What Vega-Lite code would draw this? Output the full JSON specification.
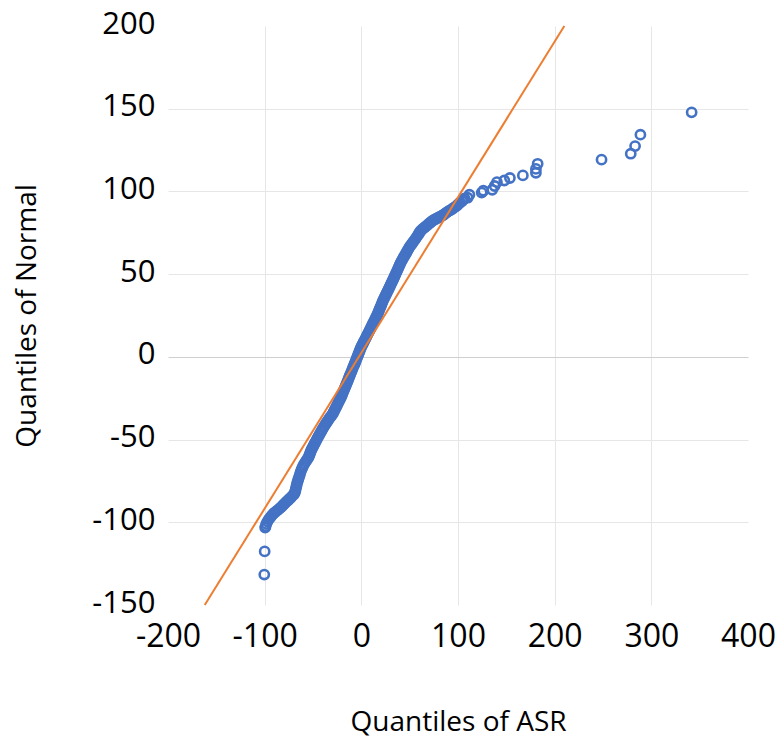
{
  "$schema": "https://vega.github.io/schema/vega-lite/v6.json",
  "width": 580,
  "height": 579,
  "autosize": {"type": "none"},
  "padding": {"left": 168, "top": 26, "right": 28, "bottom": 133},
  "background": "white",
  "config": {
    "view": {"stroke": null},
    "font": "Open Sans"
  },
  "datasets": {
    "pts": [
      {"a": -100.4, "n": -131.6}, {"a": -100, "n": -117.6}, {"a": -99.5, "n": -103.2}, {"a": -99, "n": -102.4},
      {"a": -98.3, "n": -101}, {"a": -97.2, "n": -99.6}, {"a": -95.8, "n": -98.2}, {"a": -94.2, "n": -97},
      {"a": -92.6, "n": -95.8}, {"a": -90.8, "n": -94.7}, {"a": -88.8, "n": -93.7}, {"a": -86.9, "n": -92.8},
      {"a": -85, "n": -91.9}, {"a": -83.2, "n": -91}, {"a": -81.7, "n": -90.1}, {"a": -80.2, "n": -89.2},
      {"a": -78.7, "n": -88.3}, {"a": -77.1, "n": -87.4}, {"a": -75.5, "n": -86.5}, {"a": -73.9, "n": -85.6},
      {"a": -72.2, "n": -84.6}, {"a": -70.6, "n": -83.6}, {"a": -69.2, "n": -82.6}, {"a": -68.4, "n": -81.4},
      {"a": -67.9, "n": -80}, {"a": -67.3, "n": -78.5}, {"a": -66.7, "n": -77}, {"a": -66, "n": -75.5},
      {"a": -65.2, "n": -74}, {"a": -64.3, "n": -72.5}, {"a": -63.5, "n": -71}, {"a": -62.8, "n": -69.5},
      {"a": -61.8, "n": -68}, {"a": -60.9, "n": -66.8}, {"a": -60, "n": -65.6}, {"a": -58.8, "n": -64.4},
      {"a": -57.4, "n": -63.2}, {"a": -56.1, "n": -62}, {"a": -54.7, "n": -60.8}, {"a": -53.9, "n": -59.6},
      {"a": -53.1, "n": -58.4}, {"a": -52.4, "n": -57.2}, {"a": -51.5, "n": -56}, {"a": -50.4, "n": -54.8},
      {"a": -49.4, "n": -53.6}, {"a": -48.3, "n": -52.4}, {"a": -47.2, "n": -51.2}, {"a": -46.2, "n": -50},
      {"a": -45.1, "n": -48.8}, {"a": -43.9, "n": -47.6}, {"a": -42.8, "n": -46.4}, {"a": -41.6, "n": -45.2},
      {"a": -40.5, "n": -44}, {"a": -39.3, "n": -42.8}, {"a": -38, "n": -41.6}, {"a": -36.7, "n": -40.4},
      {"a": -35.4, "n": -39.2}, {"a": -34, "n": -38}, {"a": -32.6, "n": -36.8}, {"a": -31, "n": -35.6},
      {"a": -29.5, "n": -34.4}, {"a": -28.5, "n": -33.2}, {"a": -27.5, "n": -32}, {"a": -26.4, "n": -30.8},
      {"a": -25.4, "n": -29.6}, {"a": -24.4, "n": -28.4}, {"a": -23.4, "n": -27.2}, {"a": -22.3, "n": -26},
      {"a": -21.3, "n": -24.8}, {"a": -20.4, "n": -23.6}, {"a": -19.6, "n": -22.4}, {"a": -18.8, "n": -21.2},
      {"a": -17.9, "n": -20}, {"a": -17.1, "n": -18.8}, {"a": -16.2, "n": -17.6}, {"a": -15.4, "n": -16.4},
      {"a": -14.5, "n": -15.2}, {"a": -13.7, "n": -14}, {"a": -12.9, "n": -12.8}, {"a": -12.1, "n": -11.6},
      {"a": -11.3, "n": -10.4}, {"a": -10.4, "n": -9.2}, {"a": -9.6, "n": -8}, {"a": -8.8, "n": -6.8},
      {"a": -8, "n": -5.6}, {"a": -7.1, "n": -4.4}, {"a": -6.3, "n": -3.2}, {"a": -5.5, "n": -2},
      {"a": -4.7, "n": -0.8}, {"a": -3.9, "n": 0.4}, {"a": -3.1, "n": 1.6}, {"a": -2.3, "n": 2.8},
      {"a": -1.5, "n": 4}, {"a": -0.7, "n": 5.2}, {"a": 0.2, "n": 6.4}, {"a": 1.3, "n": 7.6},
      {"a": 2.3, "n": 8.8}, {"a": 3.3, "n": 10}, {"a": 4.4, "n": 11.2}, {"a": 5.4, "n": 12.4},
      {"a": 6.4, "n": 13.6}, {"a": 7.5, "n": 14.8}, {"a": 8.5, "n": 16}, {"a": 9.5, "n": 17.2},
      {"a": 10.5, "n": 18.4}, {"a": 11.5, "n": 19.6}, {"a": 12.5, "n": 20.8}, {"a": 13.6, "n": 22},
      {"a": 14.6, "n": 23.2}, {"a": 15.6, "n": 24.4}, {"a": 16.6, "n": 25.6}, {"a": 17.5, "n": 26.8},
      {"a": 18.3, "n": 28}, {"a": 19.1, "n": 29.2}, {"a": 20, "n": 30.4}, {"a": 20.8, "n": 31.6},
      {"a": 21.6, "n": 32.8}, {"a": 22.4, "n": 34}, {"a": 23.4, "n": 35.2}, {"a": 24.4, "n": 36.4},
      {"a": 25.4, "n": 37.6}, {"a": 26.4, "n": 38.8}, {"a": 27.4, "n": 40}, {"a": 28.4, "n": 41.2},
      {"a": 29.4, "n": 42.4}, {"a": 30.3, "n": 43.6}, {"a": 31.3, "n": 44.8}, {"a": 32.3, "n": 46},
      {"a": 33.3, "n": 47.2}, {"a": 34.2, "n": 48.4}, {"a": 35.1, "n": 49.6}, {"a": 36, "n": 50.8},
      {"a": 37, "n": 52}, {"a": 37.9, "n": 53.2}, {"a": 38.8, "n": 54.4}, {"a": 39.7, "n": 55.6},
      {"a": 40.6, "n": 56.8}, {"a": 41.7, "n": 58}, {"a": 42.9, "n": 59.2}, {"a": 44, "n": 60.4},
      {"a": 45.2, "n": 61.6}, {"a": 46.4, "n": 62.8}, {"a": 47.5, "n": 64}, {"a": 48.7, "n": 65.2},
      {"a": 49.9, "n": 66.4}, {"a": 51.4, "n": 67.6}, {"a": 52.9, "n": 68.8}, {"a": 54.3, "n": 70},
      {"a": 55.8, "n": 71.2}, {"a": 57.2, "n": 72.4}, {"a": 58.6, "n": 73.6}, {"a": 59.6, "n": 74.6},
      {"a": 60.7, "n": 75.6}, {"a": 61.8, "n": 76.5}, {"a": 63.5, "n": 77.4}, {"a": 65.3, "n": 78.2},
      {"a": 67, "n": 79}, {"a": 68.6, "n": 79.8}, {"a": 70.2, "n": 80.6}, {"a": 71.8, "n": 81.4},
      {"a": 73.4, "n": 82.2}, {"a": 75.4, "n": 82.9}, {"a": 77.4, "n": 83.5}, {"a": 79.4, "n": 84.1},
      {"a": 81.4, "n": 84.7}, {"a": 83.4, "n": 85.3}, {"a": 85.2, "n": 85.9}, {"a": 86.6, "n": 86.6},
      {"a": 88, "n": 87.2}, {"a": 89.8, "n": 87.9}, {"a": 91.8, "n": 88.6}, {"a": 94, "n": 89.4},
      {"a": 96, "n": 90.2}, {"a": 97.8, "n": 91}, {"a": 99.5, "n": 91.8}, {"a": 101, "n": 92.6},
      {"a": 102, "n": 93.2}, {"a": 104.3, "n": 94.2}, {"a": 105.8, "n": 95.2}, {"a": 106.8, "n": 95.8},
      {"a": 110, "n": 96.2}, {"a": 111.8, "n": 98}, {"a": 124.5, "n": 99.3}, {"a": 126.2, "n": 100.4},
      {"a": 135.4, "n": 101}, {"a": 137.9, "n": 103.3}, {"a": 140.3, "n": 105.6}, {"a": 147.9, "n": 106.6},
      {"a": 153.7, "n": 108.1}, {"a": 167.1, "n": 109.7}, {"a": 180.6, "n": 111.3}, {"a": 180.6, "n": 113.6},
      {"a": 182.4, "n": 116.7}, {"a": 248.5, "n": 119.2}, {"a": 278.7, "n": 122.8}, {"a": 283.2, "n": 127.4},
      {"a": 288.7, "n": 134.3}, {"a": 341.7, "n": 147.8}
    ],
    "fit": [
      {"a": -162, "n": -150},
      {"a": 210, "n": 200}
    ]
  },
  "layer": [
    {
      "data": {"name": "pts"},
      "mark": {"type": "point", "shape": "circle", "filled": false, "stroke": "#4472C4", "strokeWidth": 2.6, "size": 85, "opacity": 1},
      "encoding": {
        "x": {
          "field": "a", "type": "quantitative",
          "scale": {"domain": [-200, 400], "nice": false, "zero": false},
          "axis": {
            "title": "Quantiles of ASR",
            "values": [-200, -100, 0, 100, 200, 300, 400],
            "labelExpr": "datum.value + ''",
            "domain": false, "ticks": false,
            "labelFont": "Open Sans", "labelFontSize": 32, "labelColor": "#000000", "labelPadding": 16,
            "labelFlush": false, "labelOverlap": false,
            "titleFont": "Open Sans", "titleFontSize": 28, "titleFontWeight": "normal", "titleColor": "#000000", "titlePadding": 56,
            "gridColor": "#e6e6e6", "gridWidth": 1,
            "gridOpacity": {"condition": {"test": "datum.value === -200 || datum.value === 400", "value": 0}, "value": 1}
          }
        },
        "y": {
          "field": "n", "type": "quantitative",
          "scale": {"domain": [-150, 200], "nice": false, "zero": false},
          "axis": {
            "title": "Quantiles of Normal",
            "values": [-150, -100, -50, 0, 50, 100, 150, 200],
            "labelExpr": "datum.value + ''",
            "domain": false, "ticks": false,
            "labelFont": "Open Sans", "labelFontSize": 31, "labelColor": "#000000", "labelPadding": 13,
            "labelFlush": false, "labelOverlap": false, "labelOffset": -2,
            "titleFont": "Open Sans", "titleFontSize": 28, "titleFontWeight": "normal", "titleColor": "#000000", "titlePadding": 50,
            "gridColor": {"condition": {"test": "datum.value === 0", "value": "#cfcfcf"}, "value": "#e6e6e6"},
            "gridWidth": 1,
            "gridOpacity": {"condition": {"test": "datum.value === 200 || datum.value === -150", "value": 0}, "value": 1}
          }
        }
      }
    },
    {
      "data": {"name": "fit"},
      "mark": {"type": "line", "color": "#ED7D31", "strokeWidth": 2},
      "encoding": {
        "x": {"field": "a", "type": "quantitative"},
        "y": {"field": "n", "type": "quantitative"}
      }
    }
  ]
}
